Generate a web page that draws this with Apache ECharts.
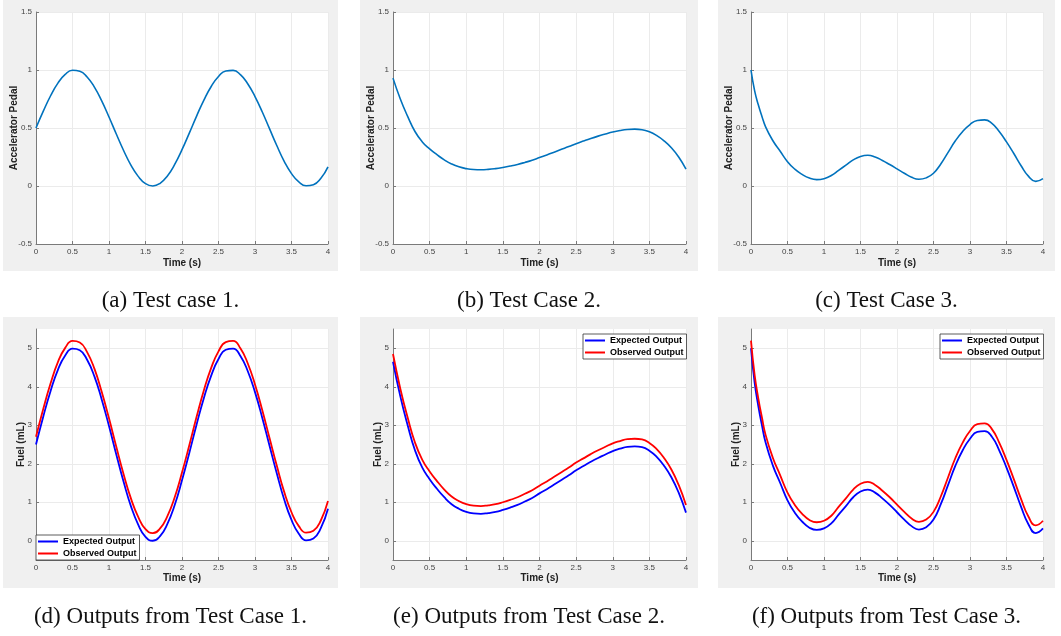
<!DOCTYPE html>
<html>
<head>
<meta charset="utf-8">
<script src="https://cdn.jsdelivr.net/npm/echarts@6/dist/echarts.min.js"></script>
<style>
html,body{margin:0;padding:0;background:#fff;}
#chart{width:1061px;height:636px;}
</style>
</head>
<body>
<div id="chart"></div>
<script>
// ---------- data ----------
const timeAB = [0,0.1,0.2,0.3,0.4,0.5,0.6,0.7,0.8,0.9,1.0,1.1,1.2,1.3,1.4,1.5,1.6,1.7,1.8,1.9,2.0,2.1,2.2,2.3,2.4,2.5,2.6,2.7,2.8,2.9,3.0,3.1,3.2,3.3,3.4,3.5,3.6,3.7,3.8,3.9,4.0];
const timeC = [0,0.05,0.1,0.15,0.2,0.3,0.4,0.5,0.6,0.7,0.8,0.9,1.0,1.1,1.2,1.3,1.4,1.5,1.6,1.7,1.8,1.9,2.0,2.1,2.2,2.3,2.4,2.5,2.6,2.7,2.8,2.9,3.0,3.1,3.2,3.3,3.4,3.5,3.6,3.7,3.8,3.9,4.0];

const pedal1 = [0.500,0.645,0.778,0.887,0.962,0.998,0.990,0.940,0.853,0.734,0.595,0.448,0.306,0.180,0.083,0.020,0.000,0.023,0.087,0.186,0.313,0.456,0.603,0.741,0.858,0.944,0.992,0.997,0.960,0.882,0.771,0.638,0.492,0.347,0.213,0.107,0.035,0.002,0.011,0.064,0.165];
const pedal2 = [0.93,0.75,0.60,0.47,0.38,0.32,0.27,0.225,0.19,0.165,0.15,0.142,0.140,0.143,0.150,0.160,0.172,0.186,0.203,0.222,0.245,0.268,0.292,0.316,0.340,0.365,0.388,0.410,0.430,0.448,0.465,0.478,0.487,0.490,0.485,0.467,0.435,0.390,0.330,0.250,0.146];
const pedal3 = [1.00,0.82,0.70,0.60,0.51,0.39,0.30,0.21,0.145,0.10,0.068,0.055,0.063,0.09,0.135,0.18,0.225,0.255,0.265,0.25,0.22,0.185,0.148,0.11,0.075,0.058,0.07,0.11,0.19,0.29,0.39,0.47,0.53,0.565,0.57,0.54,0.47,0.38,0.28,0.175,0.085,0.04,0.063];

const expected1 = [2.50,3.23,3.89,4.44,4.81,4.99,4.95,4.70,4.27,3.67,2.98,2.24,1.53,0.90,0.42,0.10,0.00,0.12,0.44,0.93,1.57,2.28,3.02,3.71,4.29,4.72,4.96,4.99,4.80,4.41,3.86,3.19,2.46,1.74,1.07,0.54,0.18,0.01,0.06,0.32,0.83];
const observed1 = [2.70,3.43,4.09,4.64,5.01,5.19,5.15,4.90,4.47,3.87,3.18,2.44,1.73,1.10,0.62,0.30,0.20,0.32,0.64,1.13,1.77,2.48,3.22,3.91,4.49,4.92,5.16,5.19,5.00,4.61,4.06,3.39,2.66,1.94,1.27,0.74,0.38,0.21,0.26,0.52,1.03];
const expected2 = [4.65,3.75,3.00,2.35,1.90,1.60,1.35,1.13,0.95,0.83,0.75,0.71,0.70,0.72,0.75,0.80,0.86,0.93,1.02,1.11,1.23,1.34,1.46,1.58,1.70,1.83,1.94,2.05,2.15,2.24,2.33,2.39,2.44,2.45,2.43,2.34,2.18,1.95,1.65,1.25,0.73];
const observed2 = [4.85,3.95,3.20,2.55,2.10,1.80,1.55,1.33,1.15,1.03,0.95,0.91,0.90,0.92,0.95,1.00,1.06,1.13,1.22,1.31,1.43,1.54,1.66,1.78,1.90,2.03,2.14,2.25,2.35,2.44,2.53,2.59,2.64,2.65,2.63,2.54,2.38,2.15,1.85,1.45,0.93];
const expected3 = [5.00,4.10,3.50,3.00,2.55,1.95,1.50,1.05,0.73,0.50,0.34,0.28,0.32,0.45,0.68,0.90,1.13,1.28,1.33,1.25,1.10,0.93,0.74,0.55,0.38,0.29,0.35,0.55,0.95,1.45,1.95,2.35,2.65,2.83,2.85,2.70,2.35,1.90,1.40,0.88,0.43,0.20,0.32];
const observed3 = [5.20,4.30,3.70,3.20,2.75,2.15,1.70,1.25,0.93,0.70,0.54,0.48,0.52,0.65,0.88,1.10,1.33,1.48,1.53,1.45,1.30,1.13,0.94,0.75,0.58,0.49,0.55,0.75,1.15,1.65,2.15,2.55,2.85,3.03,3.05,2.90,2.55,2.10,1.60,1.08,0.63,0.40,0.52];

const pedalTicks = [-0.5,0,0.5,1,1.5];
const fuelTicks = [0,1,2,3,4,5];
const timeTicks = [0,0.5,1,1.5,2,2.5,3,3.5,4];
const legendNames = ['Expected Output','Observed Output'];
const captions = ['(a) Test case 1.','(b) Test Case 2.','(c) Test Case 3.','(d) Outputs from Test Case 1.','(e) Outputs from Test Case 2.','(f) Outputs from Test Case 3.'];

// ---------- layout ----------
const cols = [{l:36,w:292,px:3,pw:335},{l:393,w:293,px:360,pw:338},{l:751,w:292,px:718,pw:337}];
const rows = [{t:12,h:232,py:0,ph:271,cap:301},{t:329,h:231,py:317,ph:271,cap:617}];

const zip = (t, v) => t.map((x, i) => [x, v[i]]);
const FONT = '"Liberation Sans", Arial, sans-serif';

const grids = [], xAxes = [], yAxes = [], series = [], graphics = [];
for (let r = 0; r < 2; r++) {
  for (let c = 0; c < 3; c++) {
    const idx = r * 3 + c;
    grids.push({left: cols[c].l, top: rows[r].t, width: cols[c].w, height: rows[r].h,
      show: true, backgroundColor: '#ffffff', borderWidth: 0, containLabel: false});
    xAxes.push({
      type: 'value', gridIndex: idx, min: 0, max: 4, interval: 0.5,
      name: 'Time (s)', nameLocation: 'middle', nameGap: r === 0 ? 14 : 13, nameMoveOverlap: false,
      nameTextStyle: {fontFamily: FONT, fontWeight: 'bold', fontSize: 10, color: '#222'},
      axisLine: {show: true, onZero: false, lineStyle: {color: '#7a7a7a', width: 1}},
      axisTick: {show: true, inside: true, length: 3, lineStyle: {color: '#7a7a7a'}},
      axisLabel: {fontFamily: FONT, fontSize: 8, color: '#444', margin: 4,
        customValues: timeTicks},
      splitLine: {show: true, lineStyle: {color: '#ebebeb', width: 1}}
    });
    if (r === 0) {
      yAxes.push({
        type: 'value', gridIndex: idx, min: -0.5, max: 1.5, interval: 0.5,
        name: 'Accelerator Pedal', nameLocation: 'middle', nameGap: 17, nameMoveOverlap: false,
        nameTextStyle: {fontFamily: FONT, fontWeight: 'bold', fontSize: 10, color: '#222'},
        axisLine: {show: true, onZero: false, lineStyle: {color: '#7a7a7a', width: 1}},
        axisTick: {show: true, inside: true, length: 3, lineStyle: {color: '#7a7a7a'}},
        axisLabel: {fontFamily: FONT, fontSize: 8, color: '#444', margin: 4},
        splitLine: {show: true, lineStyle: {color: '#ebebeb', width: 1}}
      });
    } else {
      yAxes.push({
        type: 'value', gridIndex: idx, min: -0.5, max: 5.5,
        name: 'Fuel (mL)', nameLocation: 'middle', nameGap: 10, nameMoveOverlap: false,
        nameTextStyle: {fontFamily: FONT, fontWeight: 'bold', fontSize: 10, color: '#222'},
        axisLine: {show: true, onZero: false, lineStyle: {color: '#7a7a7a', width: 1}},
        axisTick: {show: true, inside: true, length: 3, lineStyle: {color: '#7a7a7a'}, customValues: fuelTicks},
        axisLabel: {fontFamily: FONT, fontSize: 8, color: '#444', margin: 4, customValues: fuelTicks},
        splitLine: {show: true, lineStyle: {color: '#ebebeb', width: 1}}
      });
    }
    graphics.push({type: 'rect', z: -10, silent: true,
      shape: {x: cols[c].px, y: rows[r].py, width: cols[c].pw, height: rows[r].ph},
      style: {fill: '#f0f0f0'}});
    graphics.push({type: 'text', z: 10, silent: true,
      x: cols[c].px + cols[c].pw / 2, y: rows[r].cap,
      style: {text: captions[idx], fill: '#111', font: '23px "Liberation Serif", serif',
        align: 'center', verticalAlign: 'middle'}});
  }
}

const pedals = [pedal1, pedal2, pedal3];
const times = [timeAB, timeAB, timeC];
const exps = [expected1, expected2, expected3];
const obss = [observed1, observed2, observed3];
for (let c = 0; c < 3; c++) {
  series.push({type: 'line', name: 'Pedal ' + (c + 1), xAxisIndex: c, yAxisIndex: c,
    data: zip(times[c], pedals[c]), symbol: 'none', smooth: 0.5,
    lineStyle: {color: '#0072BD', width: 1.6}, itemStyle: {color: '#0072BD'}});
  series.push({type: 'line', name: legendNames[0], xAxisIndex: c + 3, yAxisIndex: c + 3,
    data: zip(times[c], exps[c]), symbol: 'none', smooth: 0.5,
    lineStyle: {color: '#0000ff', width: 1.8}, itemStyle: {color: '#0000ff'}});
  series.push({type: 'line', name: legendNames[1], xAxisIndex: c + 3, yAxisIndex: c + 3,
    data: zip(times[c], obss[c]), symbol: 'none', smooth: 0.5,
    lineStyle: {color: '#ff0000', width: 1.8}, itemStyle: {color: '#ff0000'}});
}

const legendPos = [{left: 36, top: 535}, {left: 583, top: 334}, {left: 940, top: 334}];
const legends = legendPos.map(p => ({
  data: legendNames, left: p.left, top: p.top, orient: 'vertical',
  icon: 'rect', itemWidth: 20, itemHeight: 2, itemGap: 1, itemTextGap: 2,
  padding: [1, 3, 1, 2], backgroundColor: '#ffffff', borderColor: '#333', borderWidth: 0.8,
  selectedMode: false,
  textStyle: {fontFamily: FONT, fontWeight: 'bold', fontSize: 9, color: '#000', lineHeight: 11}
}));

const chart = echarts.init(document.getElementById('chart'), null, {renderer: 'canvas'});
chart.setOption({
  animation: false,
  backgroundColor: '#ffffff',
  grid: grids, xAxis: xAxes, yAxis: yAxes, series: series,
  legend: legends,
  graphic: {elements: graphics}
});
</script>
</body>
</html>
